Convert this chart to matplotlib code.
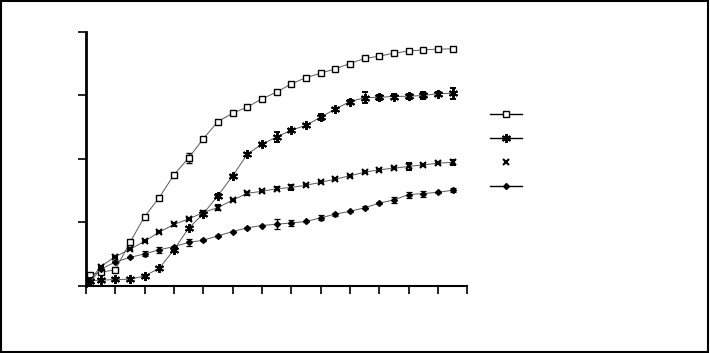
import matplotlib.pyplot as plt
from matplotlib.lines import Line2D

# sampling points (tick spacing = 1)
x = [0, 0.15, 0.5, 1, 1.5, 2, 2.5, 3, 3.5, 4, 4.5, 5, 5.5, 6, 6.5, 7,
     7.5, 8, 8.5, 9, 9.5, 10, 10.5, 11, 11.5, 12, 12.5]

squares = [0, 4.2, 5.3, 6.2, 17.0, 27.2, 34.7, 43.7, 50.3, 57.9, 64.7,
           68.0, 70.4, 73.7, 76.3, 79.6, 82.0, 83.8, 85.5, 87.6, 89.6,
           90.5, 91.7, 92.5, 93.0, 93.3, 93.4]
squares_err = [0, 0, 0, 0, 0.6, 0.5, 0.5, 0.5, 2.0, 0.5, 0.6, 0.4, 0.5,
               0.4, 0.4, 0.4, 0.5, 0.8, 0.7, 0.5, 0.5, 0.6, 0.6, 0.5,
               0.9, 0.5, 0.5]

stars = [0, 2.0, 2.1, 2.4, 2.5, 3.8, 6.8, 14.1, 22.6, 28.3, 35.5, 43.2,
         51.8, 55.8, 58.6, 61.3, 63.2, 66.4, 69.6, 72.6, 74.1, 74.3, 74.6,
         74.7, 75.0, 75.7, 75.9]
stars_err = [0, 0.5, 0.3, 0.4, 0.5, 0.5, 0.5, 0.5, 0.7, 0.5, 0.5, 0.5,
             0.5, 0.5, 2.0, 0.5, 0.6, 1.2, 0.6, 0.6, 2.2, 1.0, 0.8, 0.9,
             1.5, 0.8, 2.2]

crosses = [0, 2.2, 7.5, 11.4, 14.3, 17.5, 21.1, 24.1, 26.3, 28.8, 30.8,
           33.7, 36.4, 37.2, 38.2, 38.7, 39.6, 40.7, 42.0, 43.3, 44.7,
           45.7, 46.3, 47.0, 47.6, 48.3, 48.6]
crosses_err = [0, 0.3, 0.4, 0.4, 0.4, 0.4, 0.4, 0.4, 0.5, 0.6, 0.8, 0.5,
               0.5, 0.4, 0.5, 0.9, 0.5, 0.4, 0.4, 0.4, 0.4, 0.4, 0.4,
               1.3, 0.5, 0.5, 1.0]

diamonds = [0, 1.6, 6.4, 9.3, 11.1, 12.5, 14.1, 15.4, 17.0, 17.9, 19.6,
            21.3, 22.8, 23.7, 24.2, 24.7, 25.3, 26.7, 28.2, 29.3, 30.7,
            32.5, 33.8, 35.9, 36.3, 36.8, 37.6]
diamonds_err = [0, 0.3, 0.3, 0.3, 0.3, 1.0, 1.3, 0.3, 1.2, 0.3, 0.3, 0.3,
                0.3, 0.3, 2.0, 1.0, 0.3, 1.0, 0.6, 0.3, 0.6, 0.3, 1.1,
                1.2, 1.2, 0.3, 0.8]

fig = plt.figure(figsize=(7.1, 3.53), dpi=100)
ax = fig.add_axes([0.121, 0.191, 0.537, 0.718])

line_kw = dict(color='0.35', lw=0.7, elinewidth=0.9, ecolor='black',
               capsize=2.5, capthick=0.9)

ax.errorbar(x, squares, yerr=squares_err, marker='s', ms=5, mfc='white',
            mec='black', mew=1.0, zorder=3, **line_kw)
ax.errorbar(x, stars, yerr=stars_err, marker=(6, 2, 0), ms=6.5,
            mfc='black', mec='black', mew=1.4, zorder=3, **line_kw)
ax.errorbar(x, crosses, yerr=crosses_err, marker='x', ms=4.5, mec='black',
            mew=1.5, zorder=3, **line_kw)
ax.errorbar(x, diamonds, yerr=diamonds_err, marker='D', ms=3, mfc='black',
            mec='black', zorder=3, **line_kw)

ax.set_xlim(0, 13)
ax.set_ylim(0, 100)
ax.set_xticks(range(0, 14))
ax.set_yticks([0, 25, 50, 75, 100])
ax.tick_params(direction='out', length=6, width=1.2, color='black',
               labelbottom=False, labelleft=False)
ax.spines['top'].set_visible(False)
ax.spines['right'].set_visible(False)
ax.spines['left'].set_linewidth(2.0)
ax.spines['bottom'].set_linewidth(1.5)
ax.spines['left'].set_bounds(0, 100)
for sp in ('left', 'bottom'):
    ax.spines[sp].set_color('black')

handles = [
    Line2D([], [], color='black', lw=1.0, marker='s', ms=5, mfc='white',
           mec='black'),
    Line2D([], [], color='black', lw=1.0, marker=(6, 2, 0), ms=6.5,
           mec='black', mew=1.4),
    Line2D([], [], ls='none', marker='x', ms=4.5, mec='black', mew=1.5),
    Line2D([], [], color='black', lw=1.0, marker='D', ms=3, mfc='black',
           mec='black'),
]
fig.legend(handles, [' ', ' ', ' ', ' '], loc='upper left',
           bbox_to_anchor=(0.673, 0.73), frameon=False, fontsize=10,
           handlelength=2.3, labelspacing=0.72, handletextpad=0.2)

# frame around the whole picture
fig.patches.append(plt.Rectangle((0.002, 0.004), 0.995, 0.992,
                                 transform=fig.transFigure, fill=False,
                                 edgecolor='black', lw=1.5))

fig.savefig('out.png', dpi=100)
